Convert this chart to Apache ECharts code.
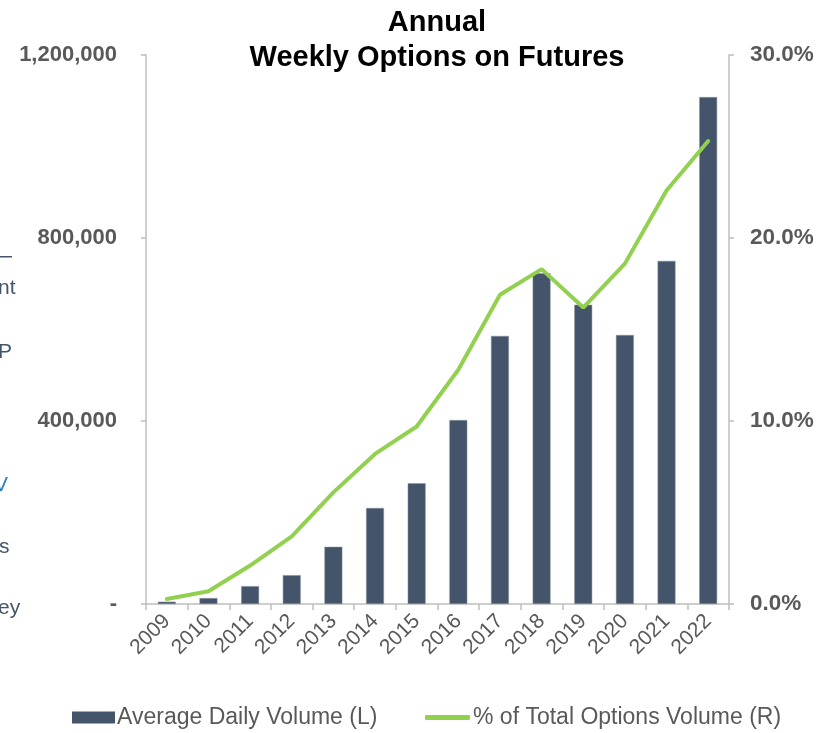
<!DOCTYPE html>
<html>
<head>
<meta charset="utf-8">
<script src="https://cdn.jsdelivr.net/npm/echarts@6/dist/echarts.min.js"></script>
<style>
  html, body { margin: 0; padding: 0; background: #fff; }
  #chart { width: 830px; height: 733px; }
</style>
</head>
<body>
<div id="chart"></div>
<script>
var years = ['2009', '2010', '2011', '2012', '2013', '2014', '2015',
  '2016', '2017', '2018', '2019', '2020', '2021', '2022'];
// average daily volume (left axis)
var adv = [5000, 13000, 39000, 63000, 125000, 210000, 264000,
  402000, 586000, 723000, 654000, 588000, 750000, 1108000];
// % of total options volume (right axis)
var pctTotal = [0.27, 0.7, 2.1, 3.7, 6.1, 8.2, 9.7,
  12.8, 16.9, 18.3, 16.2, 18.6, 22.6, 25.3];

var chart = echarts.init(document.getElementById('chart'));
var gray = '#595959';
var axisGray = '#bfbfbf';
var font = 'Liberation Sans, Arial, sans-serif';

var option = {
  animation: false,
  textStyle: { fontFamily: font },
  title: {
    text: 'Annual\nWeekly Options on Futures',
    left: 432,
    textAlign: 'center',
    top: 0,
    textStyle: { fontSize: 29, fontWeight: 'bold', color: '#000', lineHeight: 35, fontFamily: font }
  },
  grid: { left: 146, right: 101, top: 55, bottom: 129 },
  legend: [
    {
      left: 72,
      top: 706,
      padding: 0,
      itemWidth: 43,
      itemHeight: 12,
      itemStyle: { borderWidth: 0 },
      textStyle: { fontSize: 23, color: gray, fontFamily: font, padding: [0, 0, 0, -3] },
      data: [{ name: 'Average Daily Volume (L)', icon: 'rect' }]
    },
    {
      left: 425,
      top: 706,
      padding: 0,
      itemWidth: 45,
      itemHeight: 5,
      textStyle: { fontSize: 23, color: gray, fontFamily: font, padding: [0, 0, 0, -2] },
      data: [{ name: '% of Total Options Volume (R)', icon: 'roundRect' }]
    }
  ],
  xAxis: {
    type: 'category',
    data: years,
    axisLine: { lineStyle: { color: axisGray, width: 1.5 } },
    axisTick: { show: true, length: 6, lineStyle: { color: axisGray, width: 1.5 } },
    axisLabel: { rotate: 45, fontSize: 21, color: gray, margin: 14, fontFamily: font }
  },
  yAxis: [
    {
      type: 'value',
      min: 0,
      max: 1200000,
      interval: 400000,
      splitLine: { show: false },
      axisLine: { show: true, lineStyle: { color: axisGray, width: 1.5 } },
      axisTick: { show: true, length: 5, lineStyle: { color: axisGray, width: 1.5 } },
      axisLabel: {
        fontSize: 22, fontWeight: 'bold', color: gray, margin: 29, fontFamily: font,
        formatter: function (v) { return v === 0 ? '-' : v.toLocaleString('en-US'); }
      }
    },
    {
      type: 'value',
      min: 0,
      max: 30,
      interval: 10,
      splitLine: { show: false },
      axisLine: { show: true, lineStyle: { color: axisGray, width: 1.5 } },
      axisTick: { show: true, length: 5, lineStyle: { color: axisGray, width: 1.5 } },
      axisLabel: {
        fontSize: 22.5, fontWeight: 'bold', color: gray, margin: 21, fontFamily: font,
        formatter: function (v) { return v.toFixed(1) + '%'; }
      }
    }
  ],
  series: [
    {
      name: 'Average Daily Volume (L)',
      type: 'bar',
      data: adv,
      barWidth: '43%',
      itemStyle: { color: '#44546a', borderColor: '#8a94a3', borderWidth: 0.5 }
    },
    {
      name: '% of Total Options Volume (R)',
      type: 'line',
      yAxisIndex: 1,
      data: pctTotal,
      symbol: 'none',
      lineStyle: { color: '#92d050', width: 4, cap: 'round' },
      itemStyle: { color: '#92d050' }
    }
  ],
  graphic: [
    { type: 'rect', shape: { x: 0, y: 256, width: 12, height: 1.5 }, style: { fill: '#44546a' } },
    { type: 'text', left: -2, top: 278, style: { text: 'nt', font: '21px ' + font, fill: '#44546a' } },
    { type: 'text', left: -2, top: 342, style: { text: 'P', font: '21px ' + font, fill: '#44546a' } },
    { type: 'text', left: -6, top: 475, style: { text: 'V', font: '21px ' + font, fill: '#2a7fc1' } },
    { type: 'text', left: -1, top: 537, style: { text: 's', font: '21px ' + font, fill: '#44546a' } },
    { type: 'text', left: -2, top: 598, style: { text: 'ey', font: '21px ' + font, fill: '#44546a' } }
  ]
};

chart.setOption(option);
</script>
</body>
</html>
